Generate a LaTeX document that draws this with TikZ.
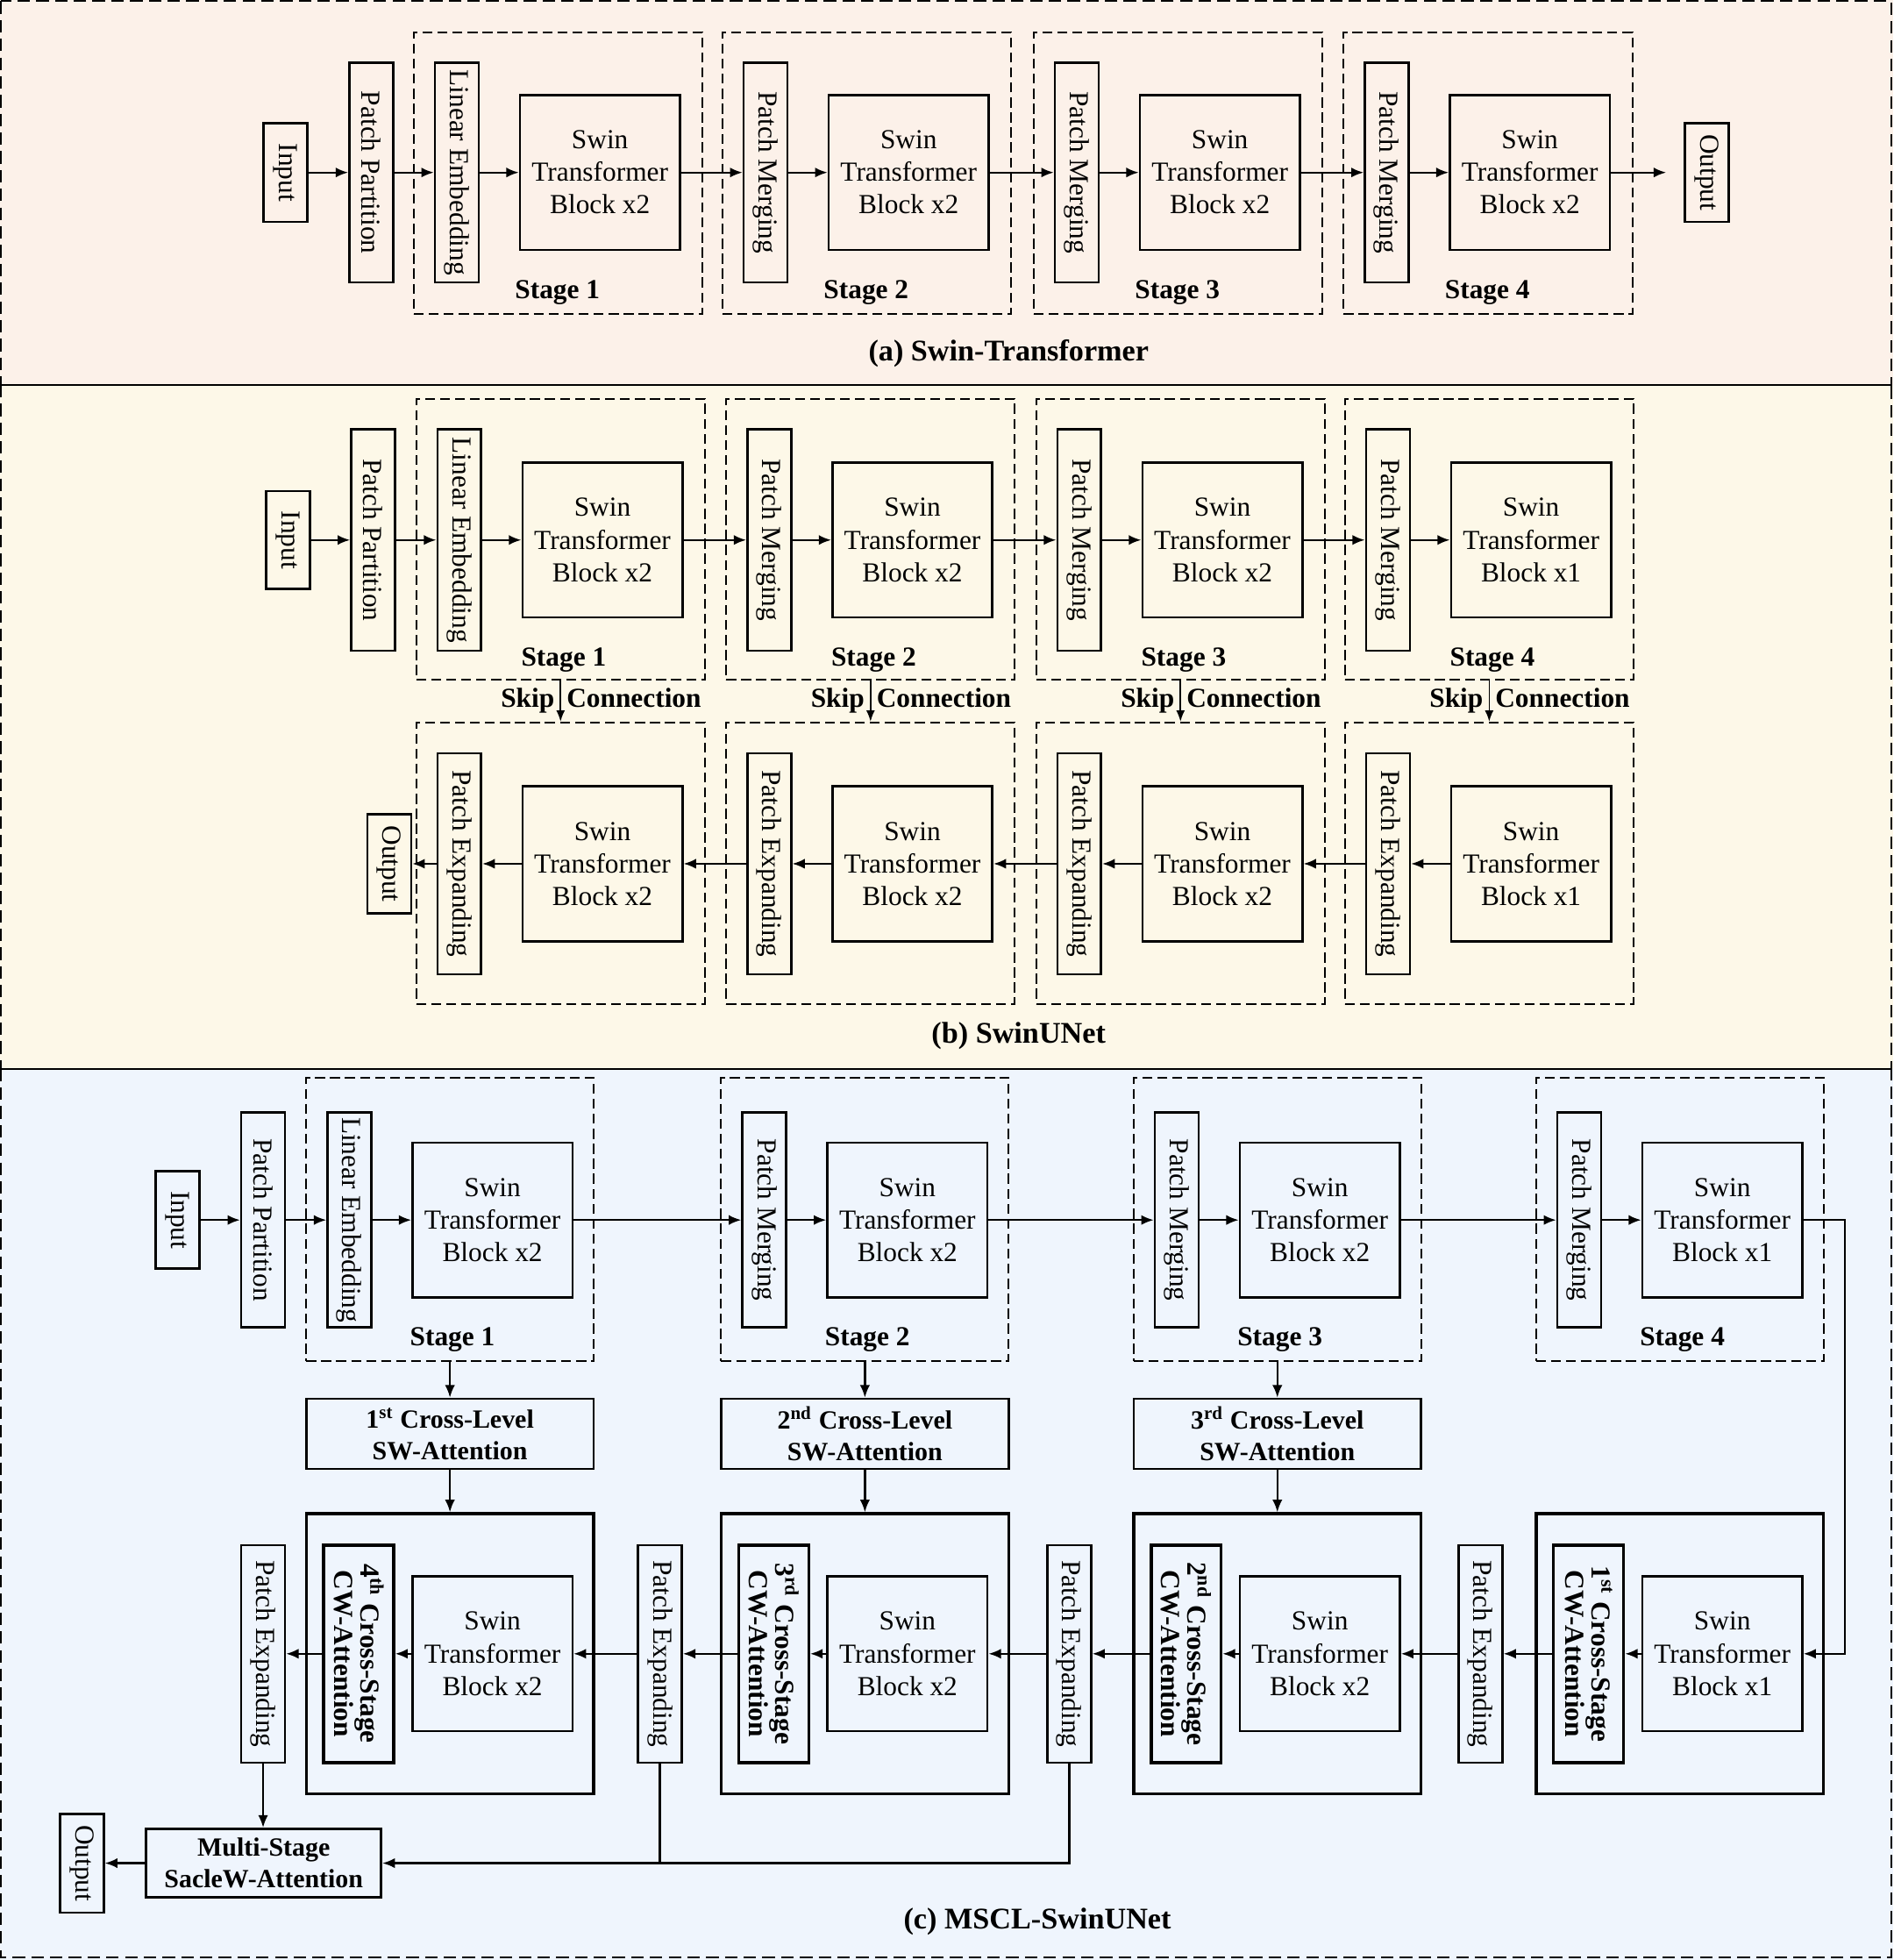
\documentclass[tikz,border=0pt]{standalone}
\usepackage{fontspec}
\setmainfont{Liberation Serif}
\usetikzlibrary{arrows.meta}

\definecolor{bgA}{RGB}{252,241,233}
\definecolor{bgB}{RGB}{253,248,232}
\definecolor{bgC}{RGB}{239,245,253}

\tikzset{
  box/.style={draw, line width=0.9pt, inner sep=1pt},
  vbox/.style={box, rotate=-90, minimum width=#1, minimum height=17.5pt, font=\fontsize{11}{13}\selectfont},
  swin/.style={box, minimum width=64pt, minimum height=62pt, align=center, font=\fontsize{11}{13}\selectfont},
  stagebox/.style={draw, line width=0.7pt, dash pattern=on 4pt off 2pt, minimum width=115.5pt, minimum height=112.5pt},
  bigbox/.style={draw, line width=1.2pt, minimum width=115pt, minimum height=112pt},
  cwbox/.style={box, line width=1.2pt, rotate=-90, minimum width=87pt, minimum height=28pt, align=center, font=\bfseries\fontsize{11}{10.5}\selectfont},
  attbox/.style={box, minimum width=115pt, minimum height=28pt, align=center, font=\bfseries\fontsize{10.5}{12.5}\selectfont},
  lbl/.style={font=\bfseries\fontsize{11}{13}\selectfont},
  ttl/.style={font=\bfseries\fontsize{12}{14}\selectfont},
  conn/.style={-{Latex[length=5pt,width=4pt]}, line width=0.8pt},
  skiparrow/.style={-{Latex[length=4.5pt,width=3.5pt]}, line width=0.6pt},
  panelframe/.style={line width=0.7pt, dash pattern=on 5pt off 2.5pt}
}

\begin{document}
\begin{tikzpicture}[x=0.5pt, y=-0.5pt]
\useasboundingbox (0,0) rectangle (1515,1568);
% panels
\fill[bgA] (0,0) rectangle (1515,308);
\fill[bgB] (0,308) rectangle (1515,855);
\fill[bgC] (0,855) rectangle (1515,1568);
\draw[panelframe] (1,1) rectangle (1513,308);
\draw[panelframe] (1,308) rectangle (1513,855);
\draw[panelframe] (1,855) rectangle (1513,1566);
\draw[line width=0.8pt] (1,855) -- (1513,855);

% (a) Swin-Transformer
\node[vbox=39.5pt] (inA) at (228.5,138) {Input};
\node[vbox=88pt] (ppA) at (297,138) {Patch Partition};
\foreach \i/\x/\t in {1/331/Linear Embedding, 2/578/Patch Merging, 3/827/Patch Merging, 4/1075/Patch Merging}{
  \node[stagebox] (sA\i) at (\x+115.5,138.5) {};
  \node[vbox=88pt] (vA\i) at (\x+34.5,138) {\t};
  \node[swin] (bA\i) at (\x+149,138) {Swin\\Transformer\\Block x2};
  \node[lbl] (gA\i) at (\x+115,234) {Stage \i};
  \draw[conn] (vA\i) -- (bA\i);
}
\node[vbox=39.5pt] (outA) at (1365.5,138) {Output};
\draw[conn] (inA) -- (ppA);
\draw[conn] (ppA) -- (vA1);
\foreach \j/\i in {1/2,2/3,3/4}
  \draw[conn] (bA\j) -- (vA\i);
\draw[conn, shorten >=7pt] (bA4) -- (outA);
\node[ttl] (tA) at (807,283) {(a) Swin-Transformer};

% (b) SwinUNet
\node[vbox=39pt] (inB) at (230.5,432) {Input};
\node[vbox=88.5pt] (ppB) at (298.5,432) {Patch Partition};
\foreach \i/\x/\n/\t in {1/333/2/Linear Embedding, 2/581/2/Patch Merging, 3/829/2/Patch Merging, 4/1076/1/Patch Merging}{
  \node[stagebox] (sB\i) at (\x+115.5,431.5) {};
  \node[vbox=88.5pt] (vB\i) at (\x+34.5,432) {\t};
  \node[swin] (bB\i) at (\x+149,432) {Swin\\Transformer\\Block x\n};
  \node[lbl] (gB\i) at (\x+118,528) {Stage \i};
  \node[stagebox] (lB\i) at (\x+115.5,690.5) {};
  \node[vbox=88.5pt] (eB\i) at (\x+34.5,691) {Patch Expanding};
  \node[swin] (dB\i) at (\x+149,691) {Swin\\Transformer\\Block x\n};
  \draw[skiparrow] (sB\i) -- (lB\i);
  \node[lbl, anchor=base east, inner sep=1pt] (kB\i) at (\x+113,566) {Skip};
  \node[lbl, anchor=base west, inner sep=1pt] (cB\i) at (\x+118,566) {Connection};
  \draw[conn] (vB\i) -- (bB\i);
  \draw[conn] (dB\i) -- (eB\i);
}
\node[vbox=39.5pt] (outB) at (311.5,691) {Output};
\draw[conn] (inB) -- (ppB);
\draw[conn] (ppB) -- (vB1);
\foreach \j/\i in {1/2,2/3,3/4}{
  \draw[conn] (bB\j) -- (vB\i);
  \draw[conn] (eB\i) -- (dB\j);
}
\draw[conn] (eB1) -- (outB);
\node[ttl] (tB) at (815,829) {(b) SwinUNet};

% (c) MSCL-SwinUNet
\node[vbox=39pt] (inC) at (142,976) {Input};
\node[vbox=86pt] (ppC) at (210.5,976) {Patch Partition};
\foreach \i/\x/\n/\t/\k/\s in {1/245/2/Linear Embedding/4/th, 2/577/2/Patch Merging/3/rd, 3/907/2/Patch Merging/2/nd, 4/1229/1/Patch Merging/1/st}{
  \node[stagebox, minimum width=115pt, minimum height=113.5pt] (sC\i) at (\x+115,975.5) {};
  \node[vbox=86pt] (vC\i) at (\x+34.5,976) {\t};
  \node[swin] (bC\i) at (\x+149,976) {Swin\\Transformer\\Block x\n};
  \node[lbl] (gC\i) at (\x+117,1072) {Stage \i};
  \node[bigbox] (hC\i) at (\x+115,1323) {};
  \node[cwbox] (wC\i) at (\x+42,1323) {\k\textsuperscript{\s} Cross-Stage\\CW-Attention};
  \node[swin] (dC\i) at (\x+149,1323) {Swin\\Transformer\\Block x\n};
  \draw[conn] (vC\i) -- (bC\i);
  \draw[conn] (dC\i) -- (wC\i);
}
\foreach \i/\x/\s in {1/245/st, 2/577/nd, 3/907/rd}{
  \node[attbox] (aC\i) at (\x+115,1147) {\i\textsuperscript{\s} Cross-Level\\SW-Attention};
  \draw[conn] (sC\i) -- (aC\i);
  \draw[conn] (aC\i) -- (hC\i);
}
\foreach \i/\x in {1/210.5, 2/528, 3/855.5, 4/1184.5}{
  \node[vbox=87pt] (eC\i) at (\x,1323) {Patch Expanding};
  \draw[conn] (wC\i) -- (eC\i);
}
\draw[conn] (inC) -- (ppC);
\draw[conn] (ppC) -- (vC1);
\foreach \j/\i in {1/2,2/3,3/4}{
  \draw[conn] (bC\j) -- (vC\i);
  \draw[conn] (eC\i) -- (dC\j);
}
\draw[conn] (bC4.east) -- ++(33,0) |- (dC4.east);
\node[attbox, minimum width=94pt, minimum height=27.5pt] (mC) at (211,1490.5) {Multi-Stage\\SacleW-Attention};
\node[vbox=39.5pt] (outC) at (65.5,1490.5) {Output};
\draw[conn] (eC1.east) -- (eC1.east |- mC.north);
\draw[conn] (eC3.east) |- (mC.east);
\draw[line width=0.8pt] (eC2.east) -- (eC2.east |- mC.east);
\draw[conn] (mC) -- (outC);
\node[ttl] (tC) at (830,1537) {(c) MSCL-SwinUNet};
\end{tikzpicture}
\end{document}
